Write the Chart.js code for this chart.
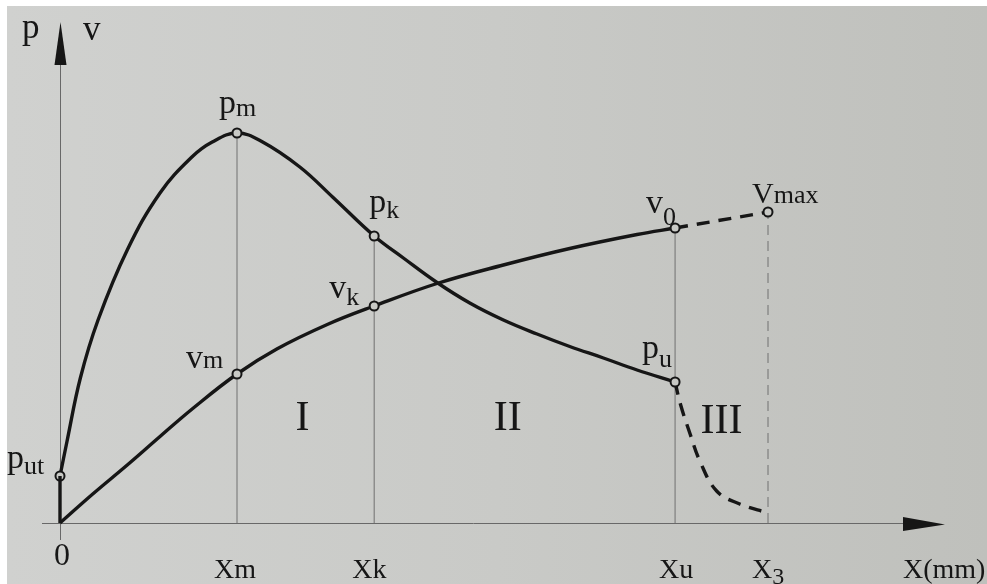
<!DOCTYPE html>
<html>
<head>
<meta charset="utf-8">
<script src="https://cdn.jsdelivr.net/npm/chart.js@4/dist/chart.umd.min.js"></script>
<style>
  html, body { margin: 0; padding: 0; background: #ffffff; }
  canvas { display: block; }
</style>
</head>
<body>
<canvas id="c" width="987" height="584"></canvas>
<script>
// ---- data (x in arbitrary barrel-travel units, p and v in relative units) ----
const keyX = [0, 20, 35.5, 69.5, 80];               // 0, xm, xk, xu, x3
const xTickMain = ['0', 'X', 'X', 'X', 'X'];
const xTickSub  = ['',  'm', 'k', 'u', '3'];

const pStartX = [0, 0];
const pStartY = [0, 9.4];

const pX = [0, 0.8, 2.3, 4.3, 7.6, 11.3, 14.9, 17.2, 20, 22.8, 27.1, 30.8, 35.5, 38.8, 42.6, 46.3, 50.1, 53.9, 57.6, 61.4, 65.2, 69.5];
const pY = [9.4, 16.4, 29, 40.6, 54.6, 66, 73.2, 76.2, 78, 76.3, 71.2, 65.2, 57.4, 53.0, 48.1, 44.0, 40.6, 37.8, 35.3, 33.0, 30.6, 28.2];

const pDashX = [69.5, 70.1, 71.2, 72.3, 74.2, 76.8, 80];
const pDashY = [28.2, 23.8, 17.8, 12.4, 6.4, 3.8, 2];

const vX = [0, 3.7, 7.6, 11.3, 15, 20, 24.5, 30.2, 35.5, 42.6, 50.1, 57.6, 65.2, 69.5];
const vY = [0, 5.8, 11.6, 17.3, 22.9, 29.8, 34.8, 39.7, 43.4, 47.9, 51.6, 54.9, 57.7, 59];

const vDashX = [69.5, 80];
const vDashY = [59, 62.2];

const pMarkX = [0, 20, 35.5, 69.5];
const pMarkY = [9.4, 78, 57.4, 28.2];
const pMarkMain = ['p', 'p', 'p', 'p'];
const pMarkSub  = ['ut', 'm', 'k', 'u'];

const vMarkX = [20, 35.5, 69.5, 80];
const vMarkY = [29.8, 43.4, 59, 62.2];
const vMarkMain = ['v', 'v', 'v', 'V'];
const vMarkSub  = ['m', 'k', '0', 'max'];

const regionLabels = ['I', 'II', 'III'];
const axisNames = ['p', 'v'];
const xAxisName = 'X(mm)';

// ---- helpers ----
const INK = '#161616';
const BG  = '#c8c9c5';
const FONT = '"Liberation Serif", "DejaVu Serif", serif';
const zip = (xs, ys) => xs.map((x, i) => ({ x, y: ys[i] }));
const isKey = (xs) => (ctx) => {
  const d = ctx.raw; if (!d) return 0;
  return xs.some((k) => Math.abs(k - d.x) < 1e-6) ? 4.5 : 0;
};

const curve = (data, extra) => Object.assign({
  data, showLine: true, borderColor: INK, borderWidth: 3.4,
  pointRadius: 0, pointHoverRadius: 0, pointBorderColor: INK, pointBorderWidth: 2,
  pointBackgroundColor: BG, cubicInterpolationMode: 'default', tension: 0.4, clip: false, fill: false
}, extra);

const guide = (x, yTop, dashed) => ({
  data: [{ x, y: 0 }, { x, y: yTop }], showLine: true, borderColor: '#707070',
  borderWidth: 1, borderDash: dashed ? [10, 6] : [], pointRadius: 0, clip: false, tension: 0
});

// ---- plugin: background, axes, arrows, texts ----
const drawing = {
  id: 'drawing',
  beforeDraw(chart) {
    const c = chart.ctx, W = chart.width, H = chart.height;
    c.save();
    c.fillStyle = '#ffffff'; c.fillRect(0, 0, W, H);
    const g = c.createLinearGradient(7, 0, W, 0);
    g.addColorStop(0, '#d0d1cf'); g.addColorStop(0.5, '#c9cac7'); g.addColorStop(1, '#bfc0bc');
    c.fillStyle = g; c.fillRect(7, 6, W - 7, H - 6);
    c.restore();
  },
  beforeDatasetsDraw(chart) {
    const c = chart.ctx, xs = chart.scales.x, ys = chart.scales.y;
    const x0 = xs.getPixelForValue(0), y0 = ys.getPixelForValue(0);
    const xEnd = xs.getPixelForValue(xs.max), yTop = ys.getPixelForValue(ys.max);
    c.save();
    c.strokeStyle = '#686868'; c.lineWidth = 1;
    c.beginPath();
    c.moveTo(x0 + 0.5, y0 + 17); c.lineTo(x0 + 0.5, yTop + 40);
    c.moveTo(x0 - 18, y0 + 0.5); c.lineTo(xEnd - 40, y0 + 0.5);
    c.stroke();
    c.fillStyle = INK;
    c.beginPath();
    c.moveTo(x0 + 0.5, yTop - 1); c.lineTo(x0 - 5.5, yTop + 42); c.lineTo(x0 + 6.5, yTop + 42); c.closePath();
    c.fill();
    c.beginPath();
    c.moveTo(xEnd, y0 + 1.5); c.lineTo(xEnd - 42, y0 - 6); c.lineTo(xEnd - 42, y0 + 8); c.closePath();
    c.fill();
    c.restore();
  },
  afterDatasetsDraw(chart) {
    const c = chart.ctx, xs = chart.scales.x, ys = chart.scales.y;
    const px = v => xs.getPixelForValue(v), py = v => ys.getPixelForValue(v);
    const x0 = px(0), y0 = py(0), yTop = py(ys.max), xEnd = px(xs.max);
    c.save();
    c.fillStyle = INK; c.textBaseline = 'alphabetic'; c.textAlign = 'left';
    const lab = (main, sub, x, y, ms, ss, sdy) => {
      c.font = ms + 'px ' + FONT; c.fillText(main, x, y);
      const w = c.measureText(main).width;
      if (sub) { c.font = ss + 'px ' + FONT; c.fillText(sub, x + w, y + sdy); }
    };
    // axis names
    lab(axisNames[0], '', x0 - 38, yTop + 15, 35, 0, 0);
    lab(axisNames[1], '', x0 + 23, yTop + 17, 35, 0, 0);
    // p point labels
    const pOff = [[-53, -8, 6], [-18, -20, 3], [-5, -24, 6], [-33, -24, 9]];
    pMarkX.forEach((x, i) => {
      const o = pOff[i];
      lab(pMarkMain[i], pMarkSub[i], px(x) + o[0], py(pMarkY[i]) + o[1], 34, 26, o[2]);
    });
    // v point labels
    const vOff = [[-51, -6, 0, 34], [-45, -8, 7, 34], [-29, -15, 12, 34], [-16, -9, 0, 30]];
    vMarkX.forEach((x, i) => {
      const o = vOff[i];
      lab(vMarkMain[i], vMarkSub[i], px(x) + o[0], py(vMarkY[i]) + o[1], o[3], 26, o[2]);
    });
    // region labels, centered between guide lines
    const rdx = [-3, -17, 0], rdy = [430, 430, 433];
    c.textAlign = 'center'; c.font = '42px ' + FONT;
    regionLabels.forEach((t, i) => {
      const cx = (px(keyX[i + 1]) + px(keyX[i + 2])) / 2 + rdx[i];
      c.fillText(t, cx, y0 + (rdy[i] - 523));
    });
    // x tick labels
    c.textAlign = 'center'; c.font = '32px ' + FONT;
    c.fillText(xTickMain[0], px(keyX[0]) + 2, y0 + 42);
    c.textAlign = 'left';
    const tdx = [0, -23, -22, -16, -16], tsdy = [0, 0, 0, 0, 6], tss = [0, 28, 28, 28, 24];
    for (let i = 1; i < keyX.length; i++) {
      lab(xTickMain[i], xTickSub[i], px(keyX[i]) + tdx[i], y0 + 55, 28, tss[i], tsdy[i]);
    }
    lab(xAxisName, '', xEnd - 42, y0 + 55, 28, 0, 0);
    c.restore();
  }
};

new Chart(document.getElementById('c'), {
  type: 'scatter',
  data: {
    datasets: [
      curve(zip(pStartX, pStartY), { tension: 0 }),
      curve(zip(pX, pY), { pointRadius: isKey(pMarkX) }),
      curve(zip(pDashX, pDashY), { borderDash: [13, 9] }),
      curve(zip(vX, vY), { pointRadius: isKey(vMarkX) }),
      curve(zip(vDashX, vDashY), { borderDash: [13, 9], tension: 0, pointRadius: isKey([80]) }),
      guide(keyX[1], pMarkY[1], false),
      guide(keyX[2], pMarkY[2], false),
      guide(keyX[3], vMarkY[2], false),
      guide(keyX[4], vMarkY[3], true)
    ]
  },
  options: {
    responsive: false, animation: false, events: [],
    layout: { padding: { left: 60, right: 42, top: 23, bottom: 61 } },
    plugins: { legend: { display: false }, tooltip: { enabled: false } },
    scales: {
      x: { type: 'linear', min: 0, max: 100, display: false },
      y: { type: 'linear', min: 0, max: 100, display: false }
    }
  },
  plugins: [drawing]
});
</script>
</body>
</html>
